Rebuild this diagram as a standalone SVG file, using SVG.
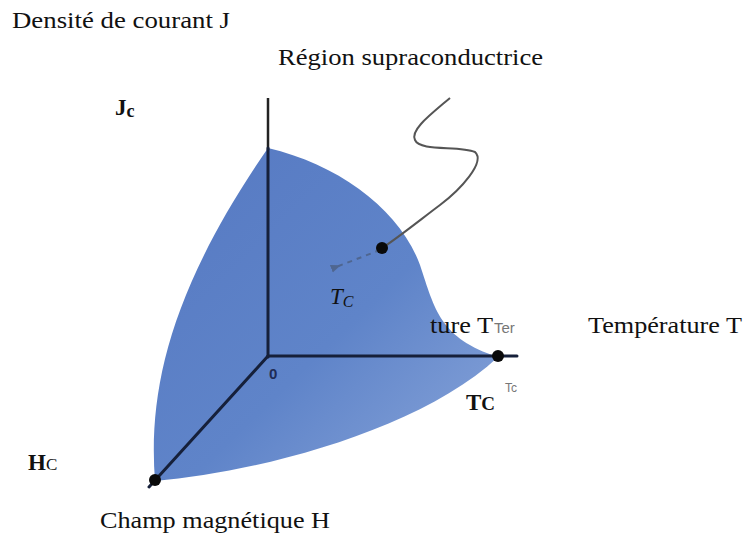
<svg xmlns="http://www.w3.org/2000/svg" width="747" height="536" viewBox="0 0 747 536">
<style>
text{font-family:'Liberation Serif','Times New Roman',Tinos,'Nimbus Roman',serif}
.lbl{font-size:23px;fill:#111}
.b{font-weight:bold}
.axis{stroke:#16203a;stroke-width:3;fill:none;stroke-linecap:round}
.dot{fill:#0a0a0a}
.gray{fill:#777}
.sans{font-family:'Liberation Sans',Arial,sans-serif}
</style>
<defs>
<linearGradient id="blue" x1="0" y1="0" x2="1" y2="1">
<stop offset="0" stop-color="#5679c2"/>
<stop offset="0.55" stop-color="#5f84c9"/>
<stop offset="1" stop-color="#8aa6da"/>
</linearGradient>
<marker id="ah" viewBox="0 0 10 10" refX="5" refY="5" markerWidth="5" markerHeight="5" orient="auto">
<path d="M10,1 L0,5 L10,9 z" fill="#4f6690"/>
</marker>
</defs>
<g id="surface">
<path d="M268,148 C340,165 400,210 420,265 C435,310 440,338 498,357 C420,430 260,472 155,481 C148,390 170,290 268,148 Z" fill="url(#blue)"/>
</g>
<g id="axes">
<line x1="268" y1="98" x2="268" y2="150" stroke="#222" stroke-width="2.5"/>
<line class="axis" x1="268" y1="148" x2="268" y2="357"/>
<line class="axis" x1="268" y1="356" x2="517" y2="356"/>
<line class="axis" x1="268" y1="356" x2="149" y2="487"/>
<text class="sans" x="269" y="379" font-size="15" font-weight="bold" fill="#1e2b55">0</text>
</g>
<g id="connectors">
<path d="M450,98 C430,115 410,130 415,140 C420,152 460,145 475,152 C486,162 460,190 440,205 C420,220 395,240 382,248" fill="none" stroke="#555" stroke-width="2"/>
<line x1="380" y1="250" x2="336" y2="267" stroke="#4f6690" stroke-width="2" stroke-dasharray="5,5" marker-end="url(#ah)"/>
</g>
<g id="points">
<circle class="dot" cx="382" cy="248" r="6"/>
<circle class="dot" cx="498" cy="356" r="6"/>
<circle class="dot" cx="155" cy="480" r="6"/>
</g>
<g id="labels">
<text class="lbl" x="12" y="28" textLength="218" lengthAdjust="spacingAndGlyphs">Densité de courant J</text>
<text class="lbl" x="278" y="65" textLength="265" lengthAdjust="spacingAndGlyphs">Région supraconductrice</text>
<text class="lbl" x="588" y="333" textLength="154" lengthAdjust="spacingAndGlyphs">Température T</text>
<text class="lbl" x="100" y="528" textLength="230" lengthAdjust="spacingAndGlyphs">Champ magnétique H</text>
<text class="lbl" x="430" y="333" textLength="63" lengthAdjust="spacingAndGlyphs">ture T</text>
<text class="gray sans" x="494" y="333" font-size="15">Ter</text>
<text class="lbl b" x="115" y="115" font-size="24">J<tspan font-size="18" dy="2">c</tspan></text>
<text class="lbl b" x="28" y="470" font-size="24">H<tspan font-weight="normal" font-size="17">C</tspan></text>
<text class="lbl b" x="466" y="410" font-size="26">T<tspan font-size="19">C</tspan></text>
<text class="gray sans" x="505" y="392" font-size="12">Tc</text>
<text class="lbl" x="330" y="304" font-style="italic" font-size="24">T<tspan font-size="16" dy="3">C</tspan></text>
</g>
</svg>
